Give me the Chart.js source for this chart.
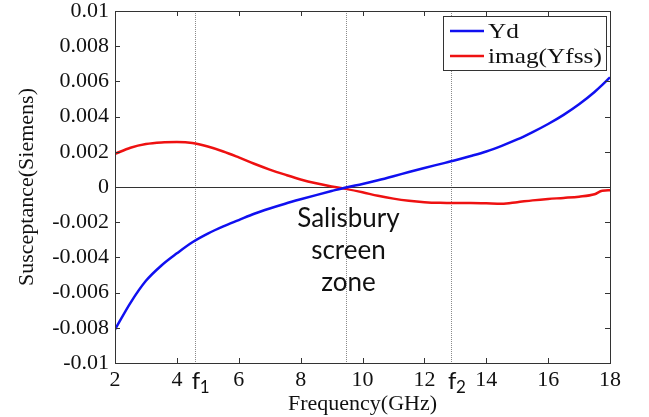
<!DOCTYPE html>
<html>
<head>
<meta charset="utf-8">
<script src="https://cdn.jsdelivr.net/npm/chart.js@4.4.1/dist/chart.umd.min.js"></script>
<style>
  html, body { margin: 0; padding: 0; background: #fff; }
  #wrap { width: 649px; height: 417px; }
</style>
</head>
<body>
<div id="wrap"><canvas id="c" width="649" height="417"></canvas></div>
<script>
// Frequency grid (GHz)
const freqGHz = [2, 2.5, 3, 3.5, 4, 4.5, 5, 5.5, 6, 6.5, 7, 7.5, 8, 8.5, 9, 9.5, 10,
                 10.5, 11, 11.5, 12, 12.5, 13, 13.5, 14, 14.5, 15, 15.5, 16, 16.5, 17, 17.5, 17.75, 18];

// Dielectric susceptance Yd (S)
const ydValues = [-0.0081, -0.00658, -0.00533, -0.00446, -0.00377, -0.00314, -0.00265, -0.00224,
                  -0.00188, -0.00152, -0.00122, -0.00095, -0.0007, -0.00046, -0.00023, -0.00001, 0.00017,
                  0.00038, 0.00061, 0.00085, 0.00108, 0.0013, 0.00152, 0.00176, 0.00202, 0.00234,
                  0.0027, 0.00312, 0.00358, 0.0041, 0.0047, 0.0054, 0.0058, 0.00623];

// FSS susceptance imag(Yfss) (S)
const imagYfssValues = [0.00188, 0.00223, 0.00244, 0.00253, 0.00255, 0.0025, 0.0023, 0.00202,
                        0.00168, 0.00132, 0.00099, 0.0007, 0.00043, 0.00021, 0.00003, -0.00012, -0.0003,
                        -0.0005, -0.00066, -0.00078, -0.00086, -0.0009, -0.00091, -0.00091, -0.00093, -0.00095,
                        -0.00086, -0.00076, -0.00068, -0.00062, -0.00055, -0.00041, -0.00021, -0.00019];

// Axis ticks
const xTickValues = [2, 4, 6, 8, 10, 12, 14, 16, 18];
const yTickValues = [-0.01, -0.008, -0.006, -0.004, -0.002, 0, 0.002, 0.004, 0.006, 0.008, 0.01];

// Band edges f1, f2 and the crossing frequency (GHz)
const bandEdgeFreqs = [4.58, 12.86];
const bandEdgeSubscripts = ['1', '2'];
const crossingFreq = [9.48];
const zoneText = ['Salisbury', 'screen', 'zone'];

const seriesNames = ['Yd', 'imag(Yfss)'];
const seriesColors = ['#1010f0', '#ee1111'];

const SERIF = '"Liberation Serif", "Times New Roman", serif';
const SANS = 'Lato, "Open Sans", sans-serif';

function pairs(xs, ys) { return xs.map((x, i) => ({ x: x, y: ys[i] })); }

const decorations = {
  id: 'decorations',
  beforeDatasetsDraw(chart) {
    const { ctx, chartArea: a, scales: { x, y } } = chart;
    ctx.save();
    // dotted vertical guides
    ctx.strokeStyle = '#8a8a8a';
    ctx.lineWidth = 1;
    ctx.setLineDash([1, 1]);
    [...bandEdgeFreqs, ...crossingFreq].forEach(f => {
      const px = Math.round(x.getPixelForValue(f)) + 0.5;
      ctx.beginPath(); ctx.moveTo(px, a.top); ctx.lineTo(px, a.bottom); ctx.stroke();
    });
    ctx.setLineDash([]);
    // zero line
    const y0 = Math.round(y.getPixelForValue(0)) + 0.5;
    ctx.strokeStyle = '#333';
    ctx.beginPath(); ctx.moveTo(a.left, y0); ctx.lineTo(a.right, y0); ctx.stroke();
    ctx.restore();
  },
  afterDatasetsDraw(chart) {
    const { ctx, chartArea: a, scales: { x, y } } = chart;
    ctx.save();
    // frame
    ctx.strokeStyle = '#333';
    ctx.lineWidth = 1;
    ctx.strokeRect(Math.round(a.left) + 0.5, Math.round(a.top) + 0.5,
                   Math.round(a.right - a.left), Math.round(a.bottom - a.top));
    // inward tick marks
    const tl = 5;
    ctx.beginPath();
    xTickValues.forEach(v => {
      const px = Math.round(x.getPixelForValue(v)) + 0.5;
      ctx.moveTo(px, a.bottom); ctx.lineTo(px, a.bottom - tl);
      ctx.moveTo(px, a.top); ctx.lineTo(px, a.top + tl);
    });
    yTickValues.forEach(v => {
      const py = Math.round(y.getPixelForValue(v)) + 0.5;
      ctx.moveTo(a.left, py); ctx.lineTo(a.left + tl, py);
      ctx.moveTo(a.right, py); ctx.lineTo(a.right - tl, py);
    });
    ctx.stroke();

    // f1 / f2 labels below the axis
    ctx.fillStyle = '#111';
    ctx.textBaseline = 'alphabetic';
    bandEdgeFreqs.forEach((f, i) => {
      const px = x.getPixelForValue(f);
      ctx.font = '24px ' + SANS;
      ctx.textAlign = 'left';
      ctx.fillText('f', px - 3, 389);
      ctx.font = '17px ' + SANS;
      ctx.fillText(bandEdgeSubscripts[i], px + 5, 393);
    });

    // zone annotation
    ctx.font = '26px ' + SANS;
    ctx.textAlign = 'center';
    const cx = x.getPixelForValue(crossingFreq[0]);
    zoneText.forEach((t, i) => {
      ctx.fillText(t, cx + 2, 227 + i * 32);
    });

    // legend box
    const lx = 443, ly = 16, lw = 163, lh = 54;
    ctx.fillStyle = '#fff';
    ctx.fillRect(lx, ly, lw, lh);
    ctx.strokeStyle = '#333';
    ctx.strokeRect(lx + 0.5, ly + 0.5, lw, lh);
    seriesNames.forEach((name, i) => {
      const rowY = 31 + i * 25;
      ctx.strokeStyle = seriesColors[i];
      ctx.lineWidth = 2.5;
      ctx.beginPath(); ctx.moveTo(450, rowY); ctx.lineTo(484, rowY); ctx.stroke();
      ctx.fillStyle = '#111';
      ctx.font = '22px ' + SERIF;
      ctx.textAlign = 'left';
      ctx.textBaseline = 'middle';
      ctx.save();
      ctx.translate(488, rowY + 1);
      ctx.scale(1.15, 1);
      ctx.fillText(name, 0, 0);
      ctx.restore();
    });
    ctx.restore();
  }
};

new Chart(document.getElementById('c'), {
  type: 'line',
  data: {
    datasets: [
      { label: seriesNames[0], data: pairs(freqGHz, ydValues), borderColor: seriesColors[0],
        borderWidth: 2.5, pointRadius: 0, cubicInterpolationMode: 'monotone', fill: false },
      { label: seriesNames[1], data: pairs(freqGHz, imagYfssValues), borderColor: seriesColors[1],
        borderWidth: 2.5, pointRadius: 0, cubicInterpolationMode: 'monotone', fill: false }
    ]
  },
  options: {
    responsive: false,
    animation: false,
    devicePixelRatio: 1,
    layout: { padding: { left: 0, right: 39, top: 11, bottom: 0 } },
    plugins: { legend: { display: false }, tooltip: { enabled: false } },
    scales: {
      x: {
        type: 'linear', min: 2, max: 18,
        grid: { display: false, drawTicks: false },
        border: { display: false },
        afterBuildTicks: s => { s.ticks = xTickValues.map(v => ({ value: v })); },
        ticks: { color: '#111', font: { family: SERIF, size: 22, lineHeight: 1.1 }, padding: 5,
                 maxRotation: 0, autoSkip: false },
        title: { display: true, text: 'Frequency(GHz)', color: '#111',
                 font: { family: SERIF, size: 22, lineHeight: 1.2 }, padding: { top: 0, bottom: 0 } },
        afterFit: s => { s.height = 54; }
      },
      y: {
        type: 'linear', min: -0.01, max: 0.01,
        grid: { display: false, drawTicks: false },
        border: { display: false },
        afterBuildTicks: s => { s.ticks = yTickValues.map(v => ({ value: v })); },
        ticks: {
          color: '#111', font: { family: SERIF, size: 22, lineHeight: 0.4 }, padding: 6,
          autoSkip: false,
          callback: v => { const n = parseFloat(Number(v).toFixed(3)); return n === 0 ? '0' : String(n); }
        },
        title: { display: true, text: 'Susceptance(Siemens)', color: '#111',
                 font: { family: SERIF, size: 22, lineHeight: 1.2 }, padding: { top: 14, bottom: 0 } },
        afterFit: s => { s.width = 115; }
      }
    }
  },
  plugins: [decorations]
});
</script>
</body>
</html>
